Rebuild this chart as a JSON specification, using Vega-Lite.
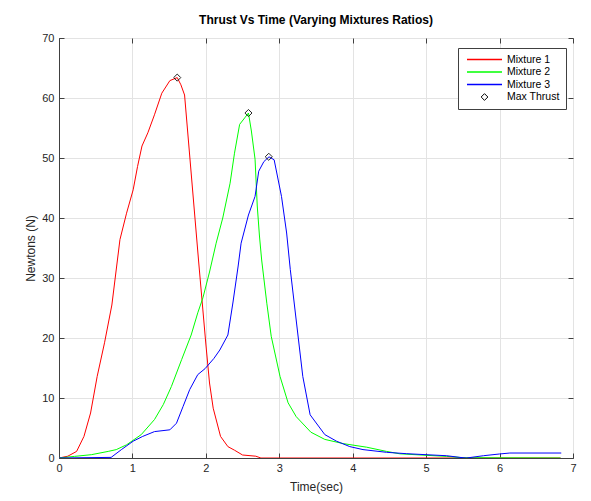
{
  "$schema": "https://vega.github.io/schema/vega-lite/v6.json",
  "width": 514,
  "height": 420,
  "autosize": {"type": "none"},
  "padding": {"left": 59, "top": 38, "right": 18, "bottom": 43},
  "background": "white",
  "config": {
    "font": "Liberation Sans",
    "view": {"stroke": "#404040", "strokeWidth": 1},
    "axis": {"labelFont": "Liberation Sans", "titleFont": "Liberation Sans", "labelColor": "#262626", "titleColor": "#262626", "titleFontWeight": "normal"}
  },
  "title": {"text": "Thrust Vs Time (Varying Mixtures Ratios)", "font": "Liberation Sans", "fontSize": 12, "fontWeight": "bold", "color": "#000000", "offset": 5, "anchor": "middle", "frame": "group"},
  "datasets": {
    "curves": [
      {"series": "Mixture 1", "t": 0, "v": 0},
      {"series": "Mixture 1", "t": 0.12, "v": 0.3},
      {"series": "Mixture 1", "t": 0.24, "v": 1.1},
      {"series": "Mixture 1", "t": 0.34, "v": 3.6},
      {"series": "Mixture 1", "t": 0.43, "v": 7.5},
      {"series": "Mixture 1", "t": 0.52, "v": 13.6},
      {"series": "Mixture 1", "t": 0.62, "v": 19.2},
      {"series": "Mixture 1", "t": 0.72, "v": 25.5},
      {"series": "Mixture 1", "t": 0.83, "v": 36.4},
      {"series": "Mixture 1", "t": 0.92, "v": 40.8},
      {"series": "Mixture 1", "t": 1.01, "v": 44.7},
      {"series": "Mixture 1", "t": 1.07, "v": 48.6},
      {"series": "Mixture 1", "t": 1.13, "v": 52.0},
      {"series": "Mixture 1", "t": 1.21, "v": 54.2},
      {"series": "Mixture 1", "t": 1.30, "v": 57.2},
      {"series": "Mixture 1", "t": 1.40, "v": 60.8},
      {"series": "Mixture 1", "t": 1.51, "v": 62.9},
      {"series": "Mixture 1", "t": 1.61, "v": 63.4},
      {"series": "Mixture 1", "t": 1.66, "v": 62.2},
      {"series": "Mixture 1", "t": 1.71, "v": 60.5},
      {"series": "Mixture 1", "t": 1.90, "v": 33.0},
      {"series": "Mixture 1", "t": 1.95, "v": 26.0},
      {"series": "Mixture 1", "t": 2.00, "v": 19.0},
      {"series": "Mixture 1", "t": 2.05, "v": 12.5},
      {"series": "Mixture 1", "t": 2.10, "v": 8.3},
      {"series": "Mixture 1", "t": 2.20, "v": 3.6},
      {"series": "Mixture 1", "t": 2.30, "v": 1.9},
      {"series": "Mixture 1", "t": 2.39, "v": 1.3},
      {"series": "Mixture 1", "t": 2.50, "v": 0.5},
      {"series": "Mixture 1", "t": 2.68, "v": 0.3},
      {"series": "Mixture 1", "t": 2.75, "v": 0},
      {"series": "Mixture 1", "t": 6.83, "v": 0},
      {"series": "Mixture 2", "t": 0, "v": 0},
      {"series": "Mixture 2", "t": 0.21, "v": 0.27},
      {"series": "Mixture 2", "t": 0.44, "v": 0.55},
      {"series": "Mixture 2", "t": 0.67, "v": 1.1},
      {"series": "Mixture 2", "t": 0.78, "v": 1.4},
      {"series": "Mixture 2", "t": 0.92, "v": 2.2},
      {"series": "Mixture 2", "t": 1.12, "v": 3.9},
      {"series": "Mixture 2", "t": 1.30, "v": 6.4},
      {"series": "Mixture 2", "t": 1.42, "v": 8.9},
      {"series": "Mixture 2", "t": 1.53, "v": 11.9},
      {"series": "Mixture 2", "t": 1.67, "v": 16.4},
      {"series": "Mixture 2", "t": 1.80, "v": 20.5},
      {"series": "Mixture 2", "t": 1.89, "v": 24.2},
      {"series": "Mixture 2", "t": 1.96, "v": 26.7},
      {"series": "Mixture 2", "t": 2.05, "v": 31.0},
      {"series": "Mixture 2", "t": 2.14, "v": 35.8},
      {"series": "Mixture 2", "t": 2.23, "v": 40.0},
      {"series": "Mixture 2", "t": 2.33, "v": 45.8},
      {"series": "Mixture 2", "t": 2.39, "v": 50.8},
      {"series": "Mixture 2", "t": 2.46, "v": 55.6},
      {"series": "Mixture 2", "t": 2.53, "v": 56.7},
      {"series": "Mixture 2", "t": 2.58, "v": 57.5},
      {"series": "Mixture 2", "t": 2.62, "v": 54.5},
      {"series": "Mixture 2", "t": 2.67, "v": 49.8},
      {"series": "Mixture 2", "t": 2.70, "v": 42.0},
      {"series": "Mixture 2", "t": 2.73, "v": 37.0},
      {"series": "Mixture 2", "t": 2.76, "v": 33.0},
      {"series": "Mixture 2", "t": 2.83, "v": 25.8},
      {"series": "Mixture 2", "t": 2.89, "v": 20.3},
      {"series": "Mixture 2", "t": 3.01, "v": 13.6},
      {"series": "Mixture 2", "t": 3.12, "v": 9.2},
      {"series": "Mixture 2", "t": 3.23, "v": 6.9},
      {"series": "Mixture 2", "t": 3.43, "v": 4.3},
      {"series": "Mixture 2", "t": 3.62, "v": 3.1},
      {"series": "Mixture 2", "t": 3.87, "v": 2.4},
      {"series": "Mixture 2", "t": 4.19, "v": 1.8},
      {"series": "Mixture 2", "t": 4.46, "v": 1.1},
      {"series": "Mixture 2", "t": 4.64, "v": 0.7},
      {"series": "Mixture 2", "t": 5.0, "v": 0.45},
      {"series": "Mixture 2", "t": 5.28, "v": 0.27},
      {"series": "Mixture 2", "t": 5.5, "v": 0.05},
      {"series": "Mixture 2", "t": 6.83, "v": 0},
      {"series": "Mixture 3", "t": 0, "v": 0},
      {"series": "Mixture 3", "t": 0.71, "v": 0.1},
      {"series": "Mixture 3", "t": 0.85, "v": 1.4},
      {"series": "Mixture 3", "t": 1.01, "v": 2.8},
      {"series": "Mixture 3", "t": 1.14, "v": 3.6},
      {"series": "Mixture 3", "t": 1.30, "v": 4.4},
      {"series": "Mixture 3", "t": 1.51, "v": 4.7},
      {"series": "Mixture 3", "t": 1.60, "v": 5.8},
      {"series": "Mixture 3", "t": 1.69, "v": 8.6},
      {"series": "Mixture 3", "t": 1.78, "v": 11.4},
      {"series": "Mixture 3", "t": 1.89, "v": 13.9},
      {"series": "Mixture 3", "t": 1.99, "v": 14.9},
      {"series": "Mixture 3", "t": 2.11, "v": 16.6},
      {"series": "Mixture 3", "t": 2.19, "v": 18.0},
      {"series": "Mixture 3", "t": 2.30, "v": 20.5},
      {"series": "Mixture 3", "t": 2.37, "v": 26.0},
      {"series": "Mixture 3", "t": 2.44, "v": 32.0},
      {"series": "Mixture 3", "t": 2.48, "v": 35.8},
      {"series": "Mixture 3", "t": 2.58, "v": 40.5},
      {"series": "Mixture 3", "t": 2.67, "v": 43.6},
      {"series": "Mixture 3", "t": 2.72, "v": 47.8},
      {"series": "Mixture 3", "t": 2.79, "v": 49.4},
      {"series": "Mixture 3", "t": 2.86, "v": 50.2},
      {"series": "Mixture 3", "t": 2.93, "v": 49.7},
      {"series": "Mixture 3", "t": 3.03, "v": 43.6},
      {"series": "Mixture 3", "t": 3.10, "v": 37.5},
      {"series": "Mixture 3", "t": 3.15, "v": 31.4},
      {"series": "Mixture 3", "t": 3.23, "v": 23.0},
      {"series": "Mixture 3", "t": 3.32, "v": 13.6},
      {"series": "Mixture 3", "t": 3.42, "v": 7.2},
      {"series": "Mixture 3", "t": 3.62, "v": 3.9},
      {"series": "Mixture 3", "t": 3.78, "v": 2.8},
      {"series": "Mixture 3", "t": 3.96, "v": 1.9},
      {"series": "Mixture 3", "t": 4.14, "v": 1.4},
      {"series": "Mixture 3", "t": 4.46, "v": 0.95},
      {"series": "Mixture 3", "t": 4.73, "v": 0.72},
      {"series": "Mixture 3", "t": 5.0, "v": 0.55},
      {"series": "Mixture 3", "t": 5.28, "v": 0.38},
      {"series": "Mixture 3", "t": 5.46, "v": 0.1},
      {"series": "Mixture 3", "t": 5.55, "v": 0},
      {"series": "Mixture 3", "t": 5.78, "v": 0.38},
      {"series": "Mixture 3", "t": 6.0, "v": 0.67},
      {"series": "Mixture 3", "t": 6.14, "v": 0.83},
      {"series": "Mixture 3", "t": 6.84, "v": 0.83}
    ],
    "peaks": [
      {"series": "Max Thrust", "t": 1.61, "v": 63.4},
      {"series": "Max Thrust", "t": 2.58, "v": 57.5},
      {"series": "Max Thrust", "t": 2.857, "v": 50.2}
    ]
  },
  "layer": [
    {
      "data": {"name": "curves"},
      "mark": {"type": "line", "strokeWidth": 1, "clip": true},
      "encoding": {
        "x": {"field": "t", "type": "quantitative", "scale": {"domain": [0, 7], "nice": false, "zero": false},
          "axis": {"orient": "bottom", "values": [0,1,2,3,4,5,6,7], "title": "Time(sec)", "titleFontSize": 12, "titleY": 28, "titleBaseline": "middle",
            "labelFontSize": 11, "tickSize": -5, "tickColor": "#404040", "labelPadding": 9, "domainColor": "#404040", "gridColor": "#e3e3e3", "labelFlush": false}},
        "y": {"field": "v", "type": "quantitative", "scale": {"domain": [0, 70], "nice": false},
          "axis": {"orient": "left", "values": [0,10,20,30,40,50,60,70], "title": "Newtons (N)", "titleFontSize": 12, "titleX": -29, "titleY": 210, "titleAngle": 270, "titleBaseline": "middle", "titleAlign": "center",
            "labelFontSize": 11, "tickSize": -5, "tickColor": "#404040", "labelPadding": 10, "domainColor": "#404040", "gridColor": "#e3e3e3", "labelFlush": false}},
        "color": {"field": "series", "type": "nominal",
          "scale": {"domain": ["Mixture 1", "Mixture 2", "Mixture 3", "Max Thrust"], "range": ["#ff0000", "#00ff00", "#0000ff", "#000000"]},
          "legend": {"title": null, "orient": "none", "legendX": 399, "legendY": 10, "fillColor": "white", "strokeColor": "#404040", "padding": 6,
            "labelFont": "Liberation Sans", "labelFontSize": 10.5, "labelColor": "#000000", "symbolType": "stroke", "symbolSize": 1225, "symbolStrokeWidth": 1, "symbolOffset": 2, "labelOffset": 4, "rowPadding": 1.5, "clipHeight": 11,
            "encode": {"symbols": {"update": {
              "shape": {"signal": "(datum.value === 'Max Thrust' ? 'diamond' : 'stroke')"},
              "size": {"signal": "(datum.value === 'Max Thrust' ? 45 : 1225)"},
              "fill": {"value": "transparent"},
              "stroke": {"signal": "(datum.value === 'Mixture 1' ? '#ff3030' : datum.value === 'Mixture 2' ? '#00ff00' : datum.value === 'Mixture 3' ? '#2020ff' : '#000000')"},
              "strokeWidth": {"signal": "(datum.value === 'Max Thrust' ? 1 : 1.5)"},
              "opacity": {"value": 1}
            }}}}
        },
        "order": {"field": "t", "type": "quantitative"}
      }
    },
    {
      "data": {"name": "peaks"},
      "mark": {"type": "point", "shape": "diamond", "filled": false, "size": 50, "strokeWidth": 1, "opacity": 0.85},
      "encoding": {
        "x": {"field": "t", "type": "quantitative",
          "axis": {"orient": "top", "values": [0,1,2,3,4,5,6,7], "labels": false, "grid": false, "domain": false, "title": null, "tickSize": -5, "tickColor": "#404040"}},
        "y": {"field": "v", "type": "quantitative",
          "axis": {"orient": "right", "values": [0,10,20,30,40,50,60,70], "labels": false, "grid": false, "domain": false, "title": null, "tickSize": -5, "tickColor": "#404040"}},
        "color": {"field": "series", "type": "nominal"}
      }
    }
  ],
  "resolve": {"axis": {"x": "independent", "y": "independent"}}
}
